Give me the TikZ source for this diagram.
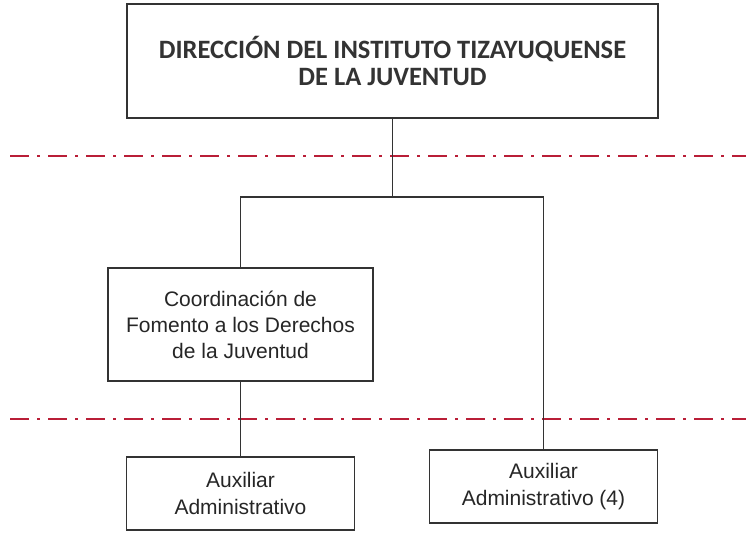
\documentclass[tikz,border=0pt]{standalone}
\usepackage{fontspec}
\setmainfont{Liberation Sans}
\newfontfamily\headfont{Carlito}
\begin{document}
\begin{tikzpicture}[x=1pt,y=-1pt,
  box/.style={draw=black!80, line width=1.8pt, inner sep=0pt, align=center, fill=white},
  conn/.style={draw=black!80, line width=1.6pt},
  level/.style={draw={rgb,255:red,185;green,30;blue,55}, line width=2.8pt, dash pattern=on 19pt off 8pt on 3pt off 8pt}
]
\useasboundingbox (0,0) rectangle (746,533);
\draw[level] (10,156) -- (746,156);
\draw[level] (10,419) -- (746,419);
\node[box, minimum width=531pt, minimum height=114pt, font={\headfont\bfseries\fontsize{26.5}{27}\selectfont}, text=black!80] (top) at (392.5,61) {DIRECCIÓN DEL INSTITUTO TIZAYUQUENSE\\DE LA JUVENTUD};
\node[box, minimum width=265pt, minimum height=113pt, font={\fontsize{21}{26}\selectfont}, text=black!85] (coord) at (240.5,324.5) {Coordinación de\\Fomento a los Derechos\\de la Juventud};
\node[box, minimum width=228pt, minimum height=73pt, font={\fontsize{21}{26.5}\selectfont}, text=black!85] (aux1) at (240.5,493.5) {Auxiliar\\Administrativo};
\node[box, minimum width=228pt, minimum height=73pt, font={\fontsize{21}{26.5}\selectfont}, text=black!85] (aux2) at (543.5,486.5) {Auxiliar\\Administrativo (4)};
\coordinate (bus) at (392.5,197);
\draw[conn] (top.south) -- (bus);
\draw[conn] (bus) -| (coord.north);
\draw[conn] (bus) -| (aux2.north);
\draw[conn] (coord.south) -- (aux1.north);
\end{tikzpicture}
\end{document}
